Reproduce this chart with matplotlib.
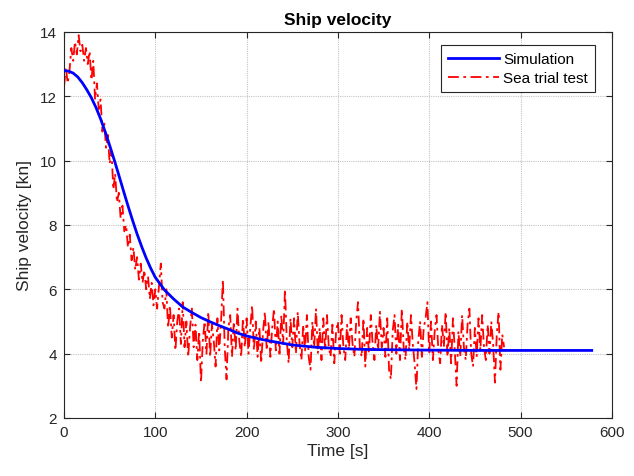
import matplotlib.pyplot as plt
import numpy as np

plt.rcParams["font.family"] = ["Liberation Sans", "DejaVu Sans"]

# simulation curve
sim_t = [0, 5, 10, 15, 20, 25, 30, 35, 40, 45, 50, 55, 60, 65, 70, 75, 80, 85, 90, 95,
         100, 110, 120, 130, 140, 150, 160, 170, 180, 190, 200, 215, 230, 250, 275, 300,
         330, 360, 400, 450, 500, 578]
sim_v = [12.8, 12.78, 12.72, 12.6, 12.42, 12.2, 11.95, 11.65, 11.3, 10.9, 10.47, 10.02,
         9.55, 9.07, 8.6, 8.15, 7.72, 7.33, 6.97, 6.65, 6.37, 5.98, 5.7, 5.45, 5.28, 5.12,
         4.99, 4.87, 4.76, 4.64, 4.55, 4.45, 4.37, 4.27, 4.2, 4.16, 4.13, 4.12, 4.11, 4.1,
         4.1, 4.1]

# sea trial record, one value every 2 s from t = 0 to 482 s
trial_v = [
    12.3, 12.9, 12.4, 12.8, 13.5, 13.1, 13.7, 13.3, 13.9, 13.4, 13.6, 13.1, 13.5, 13.0, 13.4,
    12.5, 13.1, 11.9, 12.4, 11.6, 11.9, 10.9, 11.2, 10.4, 10.8, 9.9, 10.3, 9.1, 9.6, 8.7,
    9.0, 8.2, 8.6, 7.8, 8.0, 7.3, 7.7, 6.9, 7.3, 6.6, 7.0, 6.3, 6.8, 6.2, 6.6,
    6.0, 6.4, 5.7, 6.2, 5.5, 6.0, 5.4, 6.1, 6.8, 5.6,
    5.4, 6.0, 4.8, 5.5, 4.5, 5.2, 4.1, 5.0, 5.4, 4.3, 5.6, 4.2, 5.0, 3.9, 4.8,
    5.4, 4.2, 4.9, 3.8, 4.7,
    3.1, 4.4, 5.0, 4.0, 5.3, 3.9, 4.9, 4.4, 3.6, 5.1, 4.1, 5.0, 6.3, 4.2, 3.2,
    4.8, 5.2, 3.9, 5.0, 4.1, 5.4, 4.4, 3.9, 5.1, 4.2,
    5.1, 4.0, 4.8, 5.5, 4.1, 5.0, 3.9, 4.8, 3.7, 4.7, 5.3, 4.1, 5.0, 3.9, 4.8,
    5.4, 4.1, 5.0, 4.0, 5.2, 4.3, 6.0, 4.4, 3.7, 5.1,
    4.2, 5.1, 4.0, 5.3, 4.3, 3.8, 4.9, 4.1, 5.2, 3.9, 3.5, 5.0, 4.2, 5.4, 4.0,
    4.8, 3.8, 5.1, 4.1, 5.2, 4.2, 3.9, 4.9, 3.7, 4.7,
    5.0, 4.0, 5.2, 4.2, 3.8, 4.9, 4.1, 5.1, 4.3, 3.9, 5.0, 5.6, 4.2, 3.9, 5.1,
    3.6, 4.8, 4.0, 5.2, 4.3, 3.8, 4.9, 4.1, 5.3, 4.2,
    4.8, 3.9, 5.1, 3.5, 3.2, 4.7, 5.2, 4.0, 4.9, 3.8, 5.4, 4.2, 3.8, 5.0, 4.1,
    5.2, 4.3, 3.7, 2.9, 4.4, 5.0, 3.9, 4.8, 5.1, 5.6,
    4.0, 5.0, 3.8, 4.7, 5.2, 4.1, 3.7, 4.9, 4.2, 5.3, 3.9, 4.8, 3.7, 5.1, 4.1,
    3.0, 4.7, 3.9, 5.2, 4.2, 3.8, 4.9, 5.4, 4.0, 3.6,
    4.8, 3.9, 5.1, 4.1, 5.2, 4.2, 3.8, 4.9, 4.0, 5.0, 4.3, 3.1, 4.6, 5.3, 3.5,
    4.6, 4.2,
]
trial_t = np.arange(len(trial_v)) * 2

x_ticks = [0, 100, 200, 300, 400, 500, 600]
y_ticks = [2, 4, 6, 8, 10, 12, 14]

fig = plt.figure(figsize=(6.34, 4.77), dpi=100, facecolor="white")
ax = fig.add_axes([0.101, 0.1216, 0.864, 0.8094])

ax.plot(sim_t, sim_v, color="#0000ff", lw=2, label="Simulation", zorder=3)
ax.plot(trial_t, trial_v, color="#ff0000", lw=1.3, ls=(0, (6, 2.5, 1.5, 2.5)),
        label="Sea trial test", zorder=2)

ax.set_xlim(0, 600)
ax.set_ylim(2, 14)
ax.set_xticks(x_ticks)
ax.set_yticks(y_ticks)
ax.tick_params(direction="in", length=4, width=0.8, labelsize=11, colors="#262626",
               top=True, right=True, pad=5)
ax.grid(True, color="#c4c4c4", linestyle=(0, (1, 1)), linewidth=0.8)
ax.set_axisbelow(True)
for spine in ax.spines.values():
    spine.set_linewidth(0.8)
    spine.set_edgecolor("#262626")

ax.set_xlabel("Time [s]", fontsize=12.5, color="#262626", labelpad=3)
ax.set_ylabel("Ship velocity [kn]", fontsize=12.5, color="#262626", labelpad=6)
ax.set_title("Ship velocity", fontsize=12.5, fontweight="bold", pad=6)

leg = ax.legend(loc="upper right", bbox_to_anchor=(0.969, 0.966), fontsize=11,
                fancybox=False, framealpha=1, edgecolor="#262626", handlelength=3.3,
                borderpad=0.45, labelspacing=0.35, handletextpad=0.3, borderaxespad=0)
leg.get_frame().set_linewidth(0.8)

fig.savefig("out.png", dpi=100)
